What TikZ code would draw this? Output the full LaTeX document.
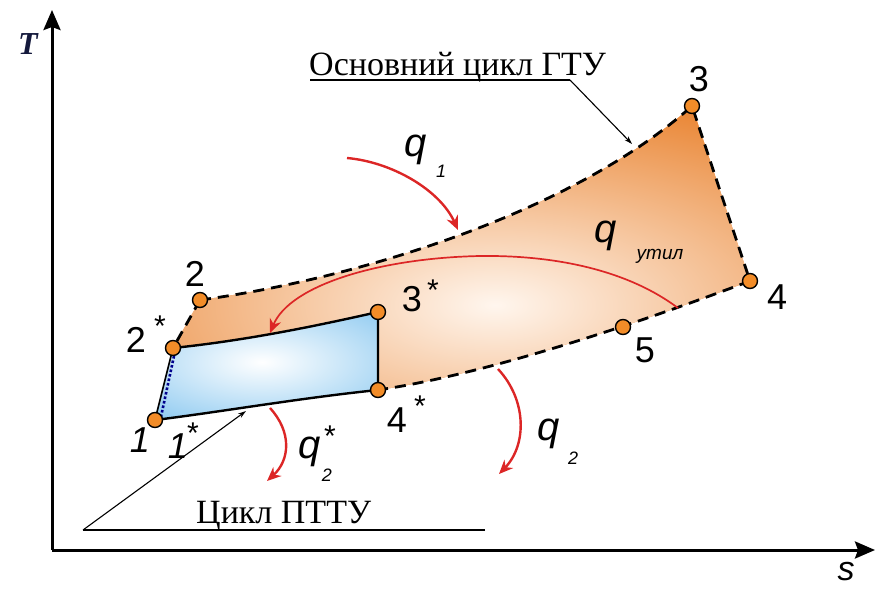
\documentclass[tikz,border=0pt]{standalone}
\usepackage{fontspec}
\setmainfont{Liberation Sans}
\newfontfamily\serifcyr{Liberation Serif}
\usetikzlibrary{arrows.meta}
\definecolor{orng}{RGB}{234,136,56}
\definecolor{orngdot}{RGB}{242,140,40}
\definecolor{lightpeach}{RGB}{255,246,238}
\definecolor{blu}{RGB}{100,182,235}
\definecolor{redarr}{RGB}{220,38,38}
\definecolor{tnavy}{RGB}{20,25,60}
\begin{document}
\begin{tikzpicture}[x=1pt,y=-1pt,
  ptdot/.style={circle,draw=black,line width=1.4pt,fill=orngdot,minimum size=15pt,inner sep=0pt},
  numlbl/.style={font=\fontsize{36}{38}\selectfont,inner sep=0pt},
  numlbli/.style={font=\fontsize{36}{38}\selectfont\itshape,inner sep=0pt},
  starlbl/.style={font=\fontsize{30}{32}\selectfont,inner sep=0pt},
  qlbl/.style={font=\fontsize{40}{42}\selectfont\itshape,inner sep=0pt},
  sublbl/.style={font=\fontsize{18}{20}\selectfont\itshape,inner sep=0pt},
  cyrlbl/.style={font=\serifcyr\fontsize{34}{36}\selectfont,inner sep=0pt},
  dashln/.style={line width=2.8pt,dash pattern=on 11pt off 7pt},
  solidln/.style={line width=2.4pt},
  axisln/.style={line width=3pt,-{Stealth[length=20pt,width=17pt,inset=3pt]}},
  heatarr/.style={draw=redarr,line width=2.4pt,-{Stealth[length=14pt,width=12pt]}},
  leader/.style={line width=1.1pt,-{Stealth[length=8pt,width=5pt]}}
]
\useasboundingbox (0,0) rectangle (875,589);
% key points
\coordinate (c1) at (155,420);
\coordinate (c2s) at (173,348);
\coordinate (c2) at (200,300);
\coordinate (c3s) at (378,312);
\coordinate (c4s) at (378,390);
\coordinate (c3) at (692,106);
\coordinate (c4) at (750,281);
\coordinate (c5) at (623,327);
% orange region
\begin{scope}
\clip (c2) .. controls (350,280) and (570,215) .. (c3) -- (c4) .. controls (620,330) and (480,375) .. (c4s) -- (c3s) .. controls (320,325) and (250,340) .. (c2s) -- cycle;
\fill[orng] (0,0) rectangle (875,589);
\shade[inner color=lightpeach,outer color=orng] (495,305) ellipse (470pt and 210pt);
\end{scope}
% blue region
\begin{scope}
\clip (c2s) .. controls (250,340) and (320,325) .. (c3s) -- (c4s) .. controls (300,398) and (220,412) .. (c1) -- cycle;
\fill[blu] (0,0) rectangle (875,589);
\shade[inner color=white,outer color=blu] (262,362) ellipse (240pt and 100pt);
\end{scope}
% cycle lines
\draw[dashln] (c2) .. controls (350,280) and (570,215) .. (c3) -- (c4) .. controls (620,330) and (480,375) .. (c4s);
\draw[dashln] (c2) -- (c2s);
\draw[solidln] (c2s) .. controls (250,340) and (320,325) .. (c3s) -- (c4s) .. controls (300,398) and (220,412) .. (c1);
\draw[line width=1.6pt] (c1) -- (c2s);
\draw[line width=2.6pt,dotted,color=blue!55!black] ([xshift=4pt,yshift=-6pt]c1) -- ([xshift=4pt,yshift=6pt]c2s);
% axes
\coordinate (O) at (52,550);
\coordinate (ytop) at (52,10);
\coordinate (xend) at (875,550);
\draw[axisln] (O) -- (ytop);
\draw[axisln] (O) -- (xend);
\node[font=\serifcyr\fontsize{32}{34}\selectfont\bfseries\itshape,text=tnavy,inner sep=0pt] (Tl) at (28,44) {T};
\node[font=\fontsize{34}{36}\selectfont\itshape,inner sep=0pt] (sl) at (846,572) {s};
% red heat arrows
\coordinate (q1s) at (347,158);
\coordinate (q1e) at (458,230);
\draw[heatarr] (q1s) .. controls (392,162) and (440,190) .. (q1e);
\coordinate (qus) at (678,308);
\coordinate (qum) at (480,256);
\coordinate (que) at (270,333);
\draw[heatarr,line width=1.7pt] (qus) .. controls (630,272) and (560,255) .. (qum) .. controls (380,258) and (290,285) .. (que);
\coordinate (q2ss) at (270,408);
\coordinate (q2se) at (267,481);
\draw[heatarr] (q2ss) .. controls (292,432) and (290,460) .. (q2se);
\coordinate (q2s) at (498,369);
\coordinate (q2e) at (499,474);
\draw[heatarr] (q2s) .. controls (527,400) and (527,445) .. (q2e);
% heat labels
\node[qlbl] (lq1) at (416,150) {q};
\node[sublbl] (lq1s) at (441,171) {1};
\node[qlbl] (lqu) at (606,236) {q};
\node[font=\fontsize{19}{21}\selectfont\itshape,inner sep=0pt] (lqus) at (660,256) {утил};
\node[qlbl] (lq2s) at (310,452) {q};
\node[sublbl] (lq2ss) at (327,475) {2};
\node[starlbl] (lq2st) at (330,436) {*};
\node[qlbl] (lq2) at (549,434) {q};
\node[sublbl] (lq2sub) at (573,458) {2};
% leaders and Cyrillic labels
\node[cyrlbl,anchor=base west] (gtu) at (309,75) {Основний цикл ГТУ};
\coordinate (ulA) at (310,80);
\coordinate (ulB) at (570,80);
\coordinate (ulC) at (632,144);
\draw[line width=1.1pt] (ulA) -- (ulB);
\draw[leader] (ulB) -- (ulC);
\node[cyrlbl,anchor=base west] (ptu) at (196,523) {Цикл ПТТУ};
\coordinate (lA) at (485,530);
\coordinate (lB) at (83,530);
\coordinate (lC) at (246,411);
\draw[line width=1.1pt] (lA) -- (lB);
\draw[leader] (lB) -- (lC);
% state points
\node[ptdot] (p1) at (c1) {};
\node[ptdot] (p2s) at (c2s) {};
\node[ptdot] (p2) at (c2) {};
\node[ptdot] (p3s) at (c3s) {};
\node[ptdot] (p4s) at (c4s) {};
\node[ptdot] (p3) at (c3) {};
\node[ptdot] (p4) at (c4) {};
\node[ptdot] (p5) at (c5) {};
% point labels
\node[numlbli] (l1) at (140,440) {1};
\node[numlbli] (l1s) at (178,446) {1};
\node[starlbl] (l1st) at (193,433) {*};
\node[numlbl] (l2) at (195,274) {2};
\node[numlbl] (l2s) at (136,340) {2};
\node[starlbl] (l2st) at (160,326) {*};
\node[numlbl] (l3s) at (412,299) {3};
\node[starlbl] (l3st) at (433,290) {*};
\node[numlbl] (l4s) at (397,420) {4};
\node[starlbl] (l4st) at (420,406) {*};
\node[numlbl] (l3) at (699,79) {3};
\node[numlbl] (l4) at (777,297) {4};
\node[numlbl] (l5) at (645,350) {5};
\end{tikzpicture}
\end{document}
